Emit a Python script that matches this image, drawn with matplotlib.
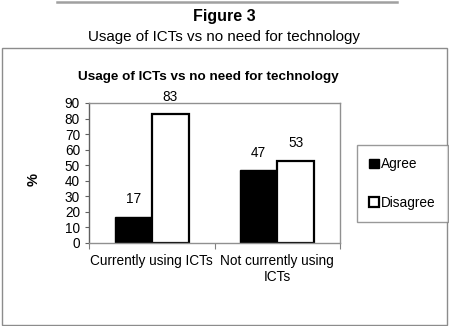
import matplotlib
matplotlib.use("Agg")
import matplotlib.pyplot as plt
from matplotlib.patches import Rectangle
from matplotlib.lines import Line2D
import numpy as np

plt.rcParams['font.family'] = ['Liberation Sans', 'DejaVu Sans']

categories = ["Currently using ICTs", "Not currently using\nICTs"]
series_names = ["Agree", "Disagree"]
agree = [17, 47]
disagree = [83, 53]
yticks = [0, 10, 20, 30, 40, 50, 60, 70, 80, 90]

W, H = 449, 326
fig = plt.figure(figsize=(W/100, H/100), dpi=100)

def fx(px): return px / W
def fy(py): return 1 - py / H

# top rule
fig.add_artist(Line2D([fx(57), fx(397)], [fy(1.5), fy(1.5)], color="#a0a0a0", lw=1.8))
# outer frame
fig.add_artist(Rectangle((fx(2), fy(325)), fx(445), 277/H, fill=False, edgecolor="#8c8c8c", lw=1.0))

fig.text(0.5, fy(16), "Figure 3", ha="center", va="center", fontsize=11.5, fontweight="bold")
fig.text(0.5, fy(37), "Usage of ICTs vs no need for technology", ha="center", va="center", fontsize=10.9)
fig.text(fx(208), fy(77), "Usage of ICTs vs no need for technology", ha="center", va="center", fontsize=9.7, fontweight="bold")
fig.text(fx(34), fy(180), "%", ha="center", va="center", rotation=90, fontsize=10.5, fontweight="bold")

ax = fig.add_axes([fx(89), fy(243), fx(251), 140/H])
x = np.arange(len(categories))
bw = 0.295
b1 = ax.bar(x - bw/2, agree, bw, color="black", edgecolor="black", lw=1.0, label=series_names[0])
b2 = ax.bar(x + bw/2, disagree, bw, color="white", edgecolor="black", lw=1.6, label=series_names[1])
for bars, vals in ((b1, agree), (b2, disagree)):
    for r, v in zip(bars, vals):
        ax.text(r.get_x() + r.get_width()/2, v + 11, str(v), ha="center", va="center", fontsize=9.8)

ax.set_xlim(-0.5, 1.5)
ax.set_ylim(0, 90)
ax.set_yticks(yticks)
ax.set_yticklabels([str(t) for t in yticks], fontsize=9.8)
ax.set_xticks([-0.5, 0.5, 1.5])
ax.set_xticklabels([])
ax.set_xticks(x, minor=True)
ax.set_xticklabels(categories, minor=True, fontsize=9.8)
ax.tick_params(axis="x", which="minor", length=0, pad=8)
ax.tick_params(axis="x", which="major", length=4, direction="out", color="#808080")
ax.tick_params(axis="y", length=3, direction="out", pad=3.5, color="#606060")
for s in ("top", "right", "bottom"):
    ax.spines[s].set_color("#909090")
ax.spines["left"].set_color("#606060")
for s in ax.spines.values():
    s.set_linewidth(1.0)

leg = fig.legend(handles=[b1, b2], labels=series_names, loc="upper left",
                 bbox_to_anchor=(fx(357), fy(145)), bbox_transform=fig.transFigure,
                 frameon=True, fancybox=False, edgecolor="#808080", fontsize=9.8,
                 handlelength=0.7, handleheight=0.7, handletextpad=0.15,
                 labelspacing=1.8, borderpad=0.9, borderaxespad=0)
leg.get_frame().set_linewidth(1.0)

fig.savefig("out.png", dpi=100)
